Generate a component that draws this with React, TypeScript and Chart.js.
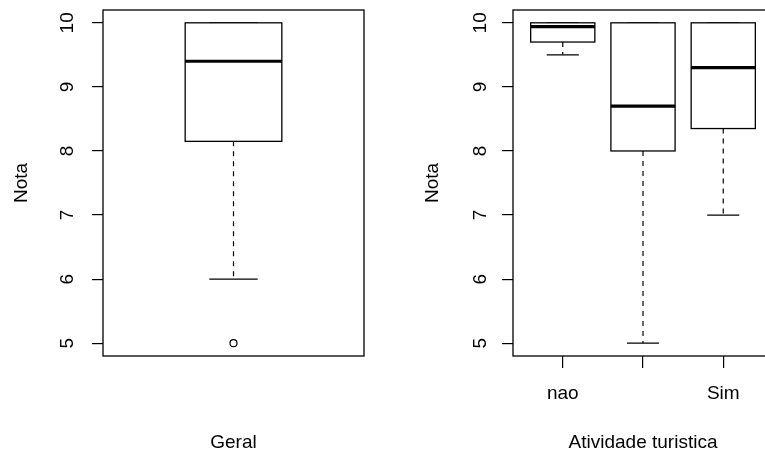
import React, { useEffect, useRef } from 'react';
import { Chart, registerables } from 'chart.js';

Chart.register(...registerables);

// ---------- data ----------
const yTicks = [5, 6, 7, 8, 9, 10];
const yTitle = 'Nota';

const geralTitle = 'Geral';
const geralLabels = [''];
const geralLow = [6];
const geralQ1 = [8.15];
const geralMedian = [9.4];
const geralQ3 = [10];
const geralHigh = [10];
const geralOutliers = [5];

const atividadeTitle = 'Atividade turistica';
const atividadeLabels = ['nao', '', 'Sim'];
const atividadeLow = [9.5, 5, 7];
const atividadeQ1 = [9.7, 8, 8.35];
const atividadeMedian = [9.94, 8.7, 9.3];
const atividadeQ3 = [10, 10, 10];
const atividadeHigh = [10, 10, 10];
const atividadeOutliers: number[][] = [[], [], []];

const FONT = "'Liberation Sans', Arial, sans-serif";

type Stats = {
  labels: string[];
  low: number[];
  q1: number[];
  median: number[];
  q3: number[];
  high: number[];
  outliers: number[][];
};

type Layout = {
  canvasLeft: number;
  canvasWidth: number;
  yAxisWidth: number;
  padRight: number;
  padTop: number;
  xAxisHeight: number;
  xMin: number;
  xMax: number;
  boxWidth: number;
  showXTicks: boolean;
  yTickPadding: number;
  yTitlePad: number;
  xTitle: string;
};

function makeBoxPlugin(stats: Stats, boxWidth: number) {
  return {
    id: 'rbox',
    beforeDatasetsDraw(chart: any) {
      const { ctx, scales } = chart;
      const x = scales.x;
      const y = scales.y;
      ctx.save();
      ctx.strokeStyle = '#000';
      stats.low.forEach((_, i) => {
        const p = i + 1;
        const cx = x.getPixelForValue(p);
        const bl = x.getPixelForValue(p - boxWidth / 2);
        const br = x.getPixelForValue(p + boxWidth / 2);
        const sl = x.getPixelForValue(p - boxWidth / 4);
        const sr = x.getPixelForValue(p + boxWidth / 4);
        const yLow = y.getPixelForValue(stats.low[i]);
        const yQ1 = y.getPixelForValue(stats.q1[i]);
        const yMed = y.getPixelForValue(stats.median[i]);
        const yQ3 = y.getPixelForValue(stats.q3[i]);
        const yHigh = y.getPixelForValue(stats.high[i]);
        // whiskers
        ctx.lineWidth = 1.2;
        ctx.setLineDash([5, 5]);
        ctx.beginPath();
        ctx.moveTo(cx, yQ1);
        ctx.lineTo(cx, yLow);
        ctx.moveTo(cx, yQ3);
        ctx.lineTo(cx, yHigh);
        ctx.stroke();
        ctx.setLineDash([]);
        // staples
        ctx.beginPath();
        ctx.moveTo(sl, yLow);
        ctx.lineTo(sr, yLow);
        ctx.moveTo(sl, yHigh);
        ctx.lineTo(sr, yHigh);
        ctx.stroke();
        // box
        ctx.fillStyle = '#fff';
        ctx.fillRect(bl, yQ3, br - bl, yQ1 - yQ3);
        ctx.lineWidth = 1.3;
        ctx.strokeRect(bl, yQ3, br - bl, yQ1 - yQ3);
        // median
        ctx.lineWidth = 3.2;
        ctx.beginPath();
        ctx.moveTo(bl, yMed);
        ctx.lineTo(br, yMed);
        ctx.stroke();
      });
      ctx.restore();
    },
    afterDatasetsDraw(chart: any) {
      const { ctx, chartArea } = chart;
      ctx.save();
      ctx.strokeStyle = '#000';
      ctx.lineWidth = 1.3;
      ctx.strokeRect(chartArea.left, chartArea.top, chartArea.right - chartArea.left, chartArea.bottom - chartArea.top);
      ctx.restore();
    },
  };
}

function Panel({ stats, layout }: { stats: Stats; layout: Layout }) {
  const ref = useRef<HTMLCanvasElement | null>(null);
  useEffect(() => {
    if (!ref.current) return;
    const outlierPoints: { x: number; y: number }[] = [];
    stats.outliers.forEach((arr, i) => arr.forEach((v) => outlierPoints.push({ x: i + 1, y: v })));
    const chart = new Chart(ref.current, {
      type: 'scatter',
      data: {
        datasets: [
          {
            data: outlierPoints,
            pointRadius: 3.5,
            pointStyle: 'circle',
            borderColor: '#000',
            backgroundColor: '#fff',
            borderWidth: 1.2,
          },
        ],
      },
      options: {
        animation: false,
        responsive: false,
        events: [],
        layout: { padding: { top: layout.padTop, right: layout.padRight, bottom: 0, left: 0 } },
        plugins: { legend: { display: false }, tooltip: { enabled: false } },
        scales: {
          x: {
            type: 'linear',
            min: layout.xMin,
            max: layout.xMax,
            afterBuildTicks: (s: any) => {
              s.ticks = stats.labels.map((_, i) => ({ value: i + 1 }));
            },
            afterFit: (s: any) => {
              s.height = layout.xAxisHeight;
              s.paddingLeft = 0;
              s.paddingRight = 0;
              s.paddingTop = 0;
              s.paddingBottom = 0;
            },
            grid: {
              display: layout.showXTicks,
              drawOnChartArea: false,
              drawTicks: layout.showXTicks,
              tickLength: 12,
              color: '#000',
              lineWidth: 1.2,
            },
            border: { display: false },
            ticks: {
              display: layout.showXTicks,
              autoSkip: false,
              maxRotation: 0,
              minRotation: 0,
              padding: 16,
              color: '#000',
              font: { family: FONT, size: 19, lineHeight: 1 },
              callback: (_v: any, i: number) => stats.labels[i],
            },
            title: {
              display: true,
              text: layout.xTitle,
              color: '#000',
              padding: { top: 0, bottom: 0 },
              font: { family: FONT, size: 19, lineHeight: 1 },
            },
          },
          y: {
            type: 'linear',
            min: 4.8,
            max: 10.2,
            afterBuildTicks: (s: any) => {
              s.ticks = yTicks.map((v) => ({ value: v }));
            },
            afterFit: (s: any) => {
              s.width = layout.yAxisWidth;
              s.paddingLeft = 0;
              s.paddingRight = 0;
              s.paddingTop = 0;
              s.paddingBottom = 0;
            },
            grid: {
              display: true,
              drawOnChartArea: false,
              drawTicks: true,
              tickLength: 11,
              color: '#000',
              lineWidth: 1.2,
            },
            border: { display: false },
            ticks: {
              minRotation: 90,
              maxRotation: 90,
              crossAlign: 'center',
              padding: layout.yTickPadding,
              color: '#000',
              font: { family: FONT, size: 19, lineHeight: 1 },
              callback: (v: any) => String(v),
            },
            title: {
              display: true,
              text: yTitle,
              color: '#000',
              padding: { top: layout.yTitlePad, bottom: 0 },
              font: { family: FONT, size: 19, lineHeight: 1 },
            },
          },
        },
      },
      plugins: [makeBoxPlugin(stats, layout.boxWidth)],
    } as any);
    return () => chart.destroy();
  }, [stats, layout]);
  return (
    <canvas
      ref={ref}
      width={layout.canvasWidth}
      height={452}
      style={{ position: 'absolute', left: layout.canvasLeft, top: 0, width: layout.canvasWidth, height: 452, display: 'block' }}
    />
  );
}

const geralStats: Stats = {
  labels: geralLabels,
  low: geralLow,
  q1: geralQ1,
  median: geralMedian,
  q3: geralQ3,
  high: geralHigh,
  outliers: [geralOutliers],
};

const atividadeStats: Stats = {
  labels: atividadeLabels,
  low: atividadeLow,
  q1: atividadeQ1,
  median: atividadeMedian,
  q3: atividadeQ3,
  high: atividadeHigh,
  outliers: atividadeOutliers,
};

const leftLayout: Layout = {
  canvasLeft: 0,
  canvasWidth: 383,
  yAxisWidth: 103,
  padRight: 19,
  padTop: 10,
  xAxisHeight: 96,
  xMin: 0.46,
  xMax: 1.54,
  boxWidth: 0.4,
  showXTicks: false,
  yTickPadding: 14,
  yTitlePad: 12.5,
  xTitle: geralTitle,
};

const rightLayout: Layout = {
  canvasLeft: 400,
  canvasWidth: 400,
  yAxisWidth: 113,
  padRight: 27,
  padTop: 10,
  xAxisHeight: 96,
  xMin: 0.38,
  xMax: 3.62,
  boxWidth: 0.8,
  showXTicks: true,
  yTickPadding: 11,
  yTitlePad: 23,
  xTitle: atividadeTitle,
};

export default function App() {
  return (
    <div style={{ position: 'fixed', left: 0, top: 0, width: 765, height: 452, overflow: 'hidden', background: '#fff' }}>
      <Panel stats={geralStats} layout={leftLayout} />
      <Panel stats={atividadeStats} layout={rightLayout} />
    </div>
  );
}
